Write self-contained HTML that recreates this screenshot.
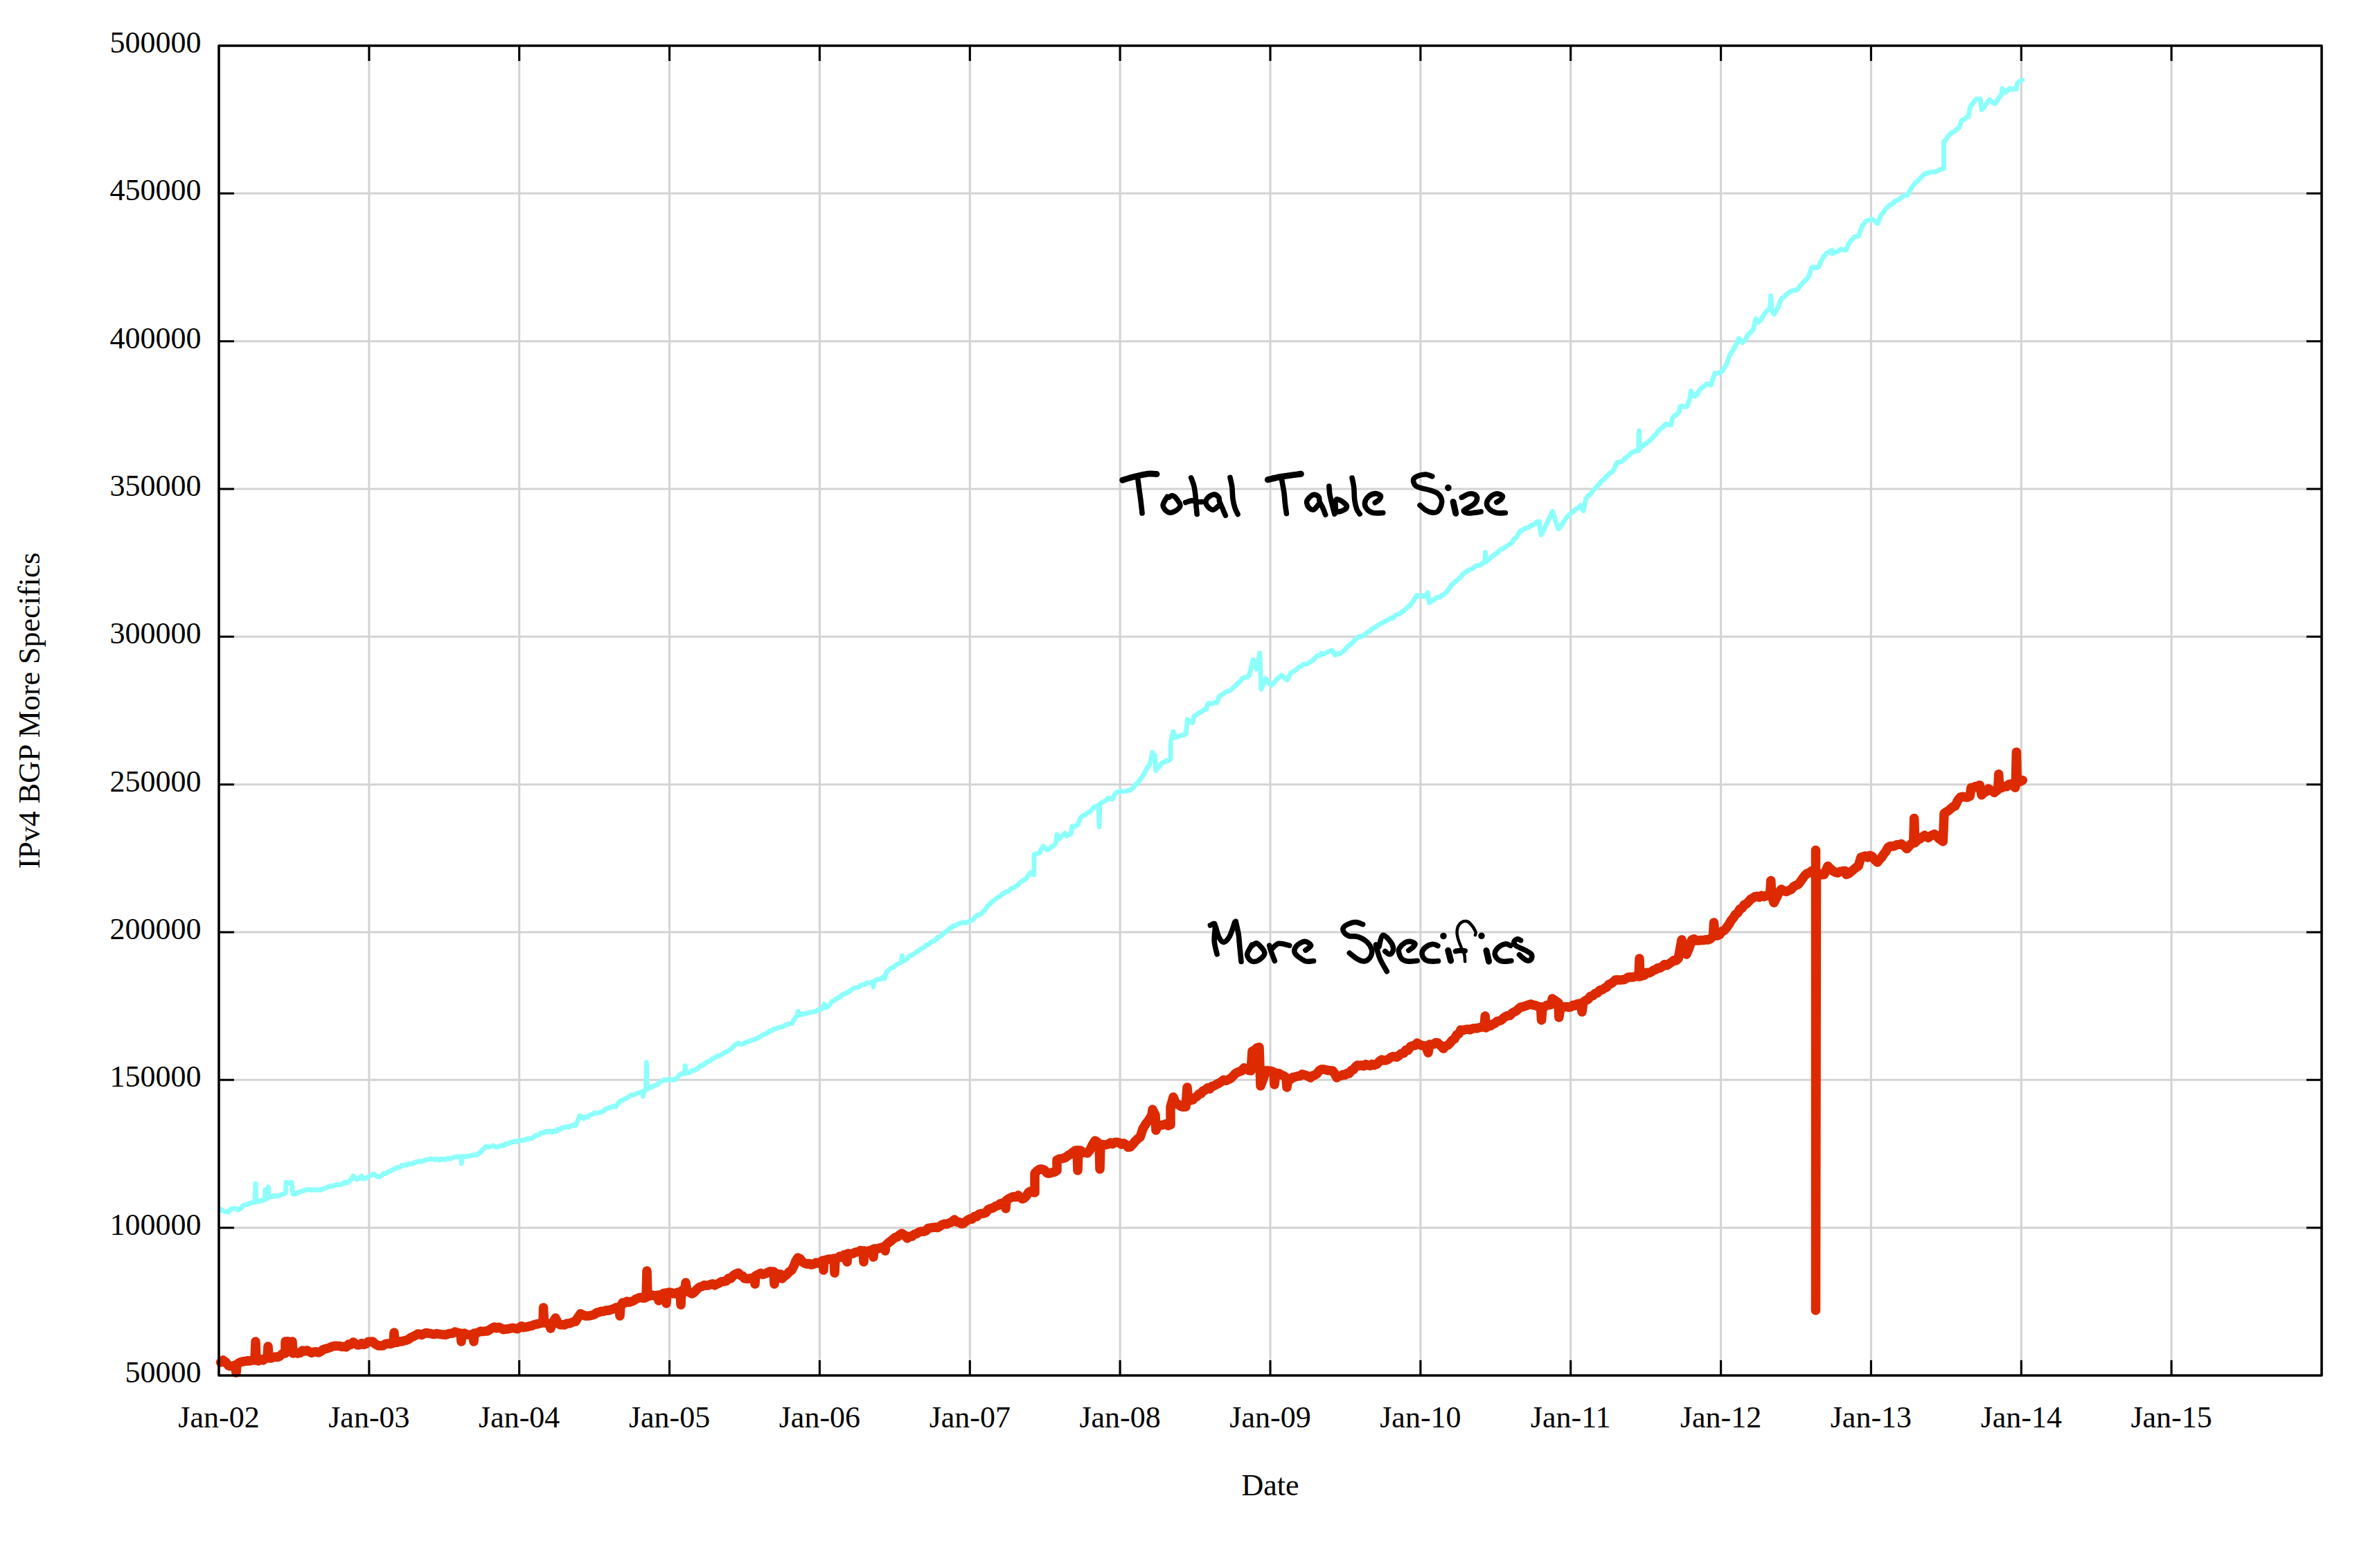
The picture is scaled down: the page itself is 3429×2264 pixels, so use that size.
<!DOCTYPE html>
<html><head><meta charset="utf-8"><style>
html,body{margin:0;padding:0;background:#fff;width:3429px;height:2264px;overflow:hidden}
svg{display:block}
text{font-family:"Liberation Serif",serif;font-size:44px;fill:#000;font-variant-ligatures:none}
</style></head><body>
<svg width="3429" height="2264" viewBox="0 0 3429 2264">
<rect width="3429" height="2264" fill="#fff"/>

<path d="M532.9,66.0V1986.0M749.7,66.0V1986.0M966.6,66.0V1986.0M1183.4,66.0V1986.0M1400.3,66.0V1986.0M1617.1,66.0V1986.0M1834.0,66.0V1986.0M2050.9,66.0V1986.0M2267.7,66.0V1986.0M2484.6,66.0V1986.0M2701.4,66.0V1986.0M2918.3,66.0V1986.0M3135.1,66.0V1986.0M316.0,279.3H3352.0M316.0,492.7H3352.0M316.0,706.0H3352.0M316.0,919.3H3352.0M316.0,1132.7H3352.0M316.0,1346.0H3352.0M316.0,1559.3H3352.0M316.0,1772.7H3352.0" stroke="#d3d3d3" stroke-width="3" fill="none"/>
<path d="M532.9,1986.0v-22M532.9,66.0v22M749.7,1986.0v-22M749.7,66.0v22M966.6,1986.0v-22M966.6,66.0v22M1183.4,1986.0v-22M1183.4,66.0v22M1400.3,1986.0v-22M1400.3,66.0v22M1617.1,1986.0v-22M1617.1,66.0v22M1834.0,1986.0v-22M1834.0,66.0v22M2050.9,1986.0v-22M2050.9,66.0v22M2267.7,1986.0v-22M2267.7,66.0v22M2484.6,1986.0v-22M2484.6,66.0v22M2701.4,1986.0v-22M2701.4,66.0v22M2918.3,1986.0v-22M2918.3,66.0v22M3135.1,1986.0v-22M3135.1,66.0v22M316.0,279.3h22M3352.0,279.3h-22M316.0,492.7h22M3352.0,492.7h-22M316.0,706.0h22M3352.0,706.0h-22M316.0,919.3h22M3352.0,919.3h-22M316.0,1132.7h22M3352.0,1132.7h-22M316.0,1346.0h22M3352.0,1346.0h-22M316.0,1559.3h22M3352.0,1559.3h-22M316.0,1772.7h22M3352.0,1772.7h-22" stroke="#000" stroke-width="3.1" fill="none"/>
<polyline points="318.5,1746.0 322.3,1748.5 326.2,1749.8 330.0,1750.0 333.0,1746.3 336.0,1745.0 340.0,1744.9 344.0,1747.0 348.0,1744.4 352.0,1740.0 355.5,1739.6 359.0,1738.4 362.5,1736.5 366.0,1736.0 368.2,1736.0 369.0,1709.0 369.8,1735.0 372.9,1734.8 376.0,1734.0 379.0,1733.3 382.0,1732.0 382.5,1731.0 383.0,1718.0 384.0,1731.0 386.6,1730.0 387.4,1714.0 388.2,1729.0 390.0,1728.0 393.0,1728.0 396.0,1726.6 399.0,1727.1 402.0,1727.0 405.5,1725.1 409.0,1724.2 412.5,1722.0 413.0,1707.0 417.0,1708.3 421.0,1707.0 423.0,1724.0 426.4,1724.2 429.8,1722.1 433.2,1720.9 436.6,1719.4 440.0,1719.0 443.3,1717.6 446.7,1717.4 450.0,1718.4 453.3,1717.9 456.7,1717.9 460.0,1718.0 463.3,1718.2 466.7,1716.4 470.0,1715.7 473.3,1714.0 476.7,1712.6 480.0,1713.0 483.0,1711.7 486.0,1710.3 489.0,1710.4 492.0,1710.8 495.0,1709.1 498.0,1706.9 501.0,1707.9 504.0,1706.0 507.0,1702.8 510.0,1698.0 515.0,1703.0 518.5,1701.1 522.0,1698.0 524.0,1702.0 527.2,1701.7 530.4,1699.9 533.6,1698.6 536.8,1696.0 540.0,1695.0 543.5,1698.3 547.0,1699.0 550.2,1698.5 553.5,1694.6 556.8,1694.4 560.0,1692.0 563.3,1691.1 566.7,1688.9 570.0,1687.6 573.3,1686.0 576.7,1685.6 580.0,1683.0 583.3,1682.2 586.7,1682.2 590.0,1680.1 593.3,1680.7 596.7,1679.9 600.0,1678.0 603.0,1677.2 606.0,1676.8 609.0,1677.1 612.0,1675.9 615.0,1674.6 618.0,1674.0 621.1,1673.3 624.3,1673.5 627.4,1674.5 630.6,1673.1 633.7,1675.1 636.9,1673.4 640.0,1674.0 643.3,1674.4 646.7,1672.2 650.0,1673.2 653.3,1671.9 656.7,1670.7 660.0,1670.0 665.6,1670.0 666.4,1680.0 667.2,1670.0 670.7,1669.7 674.1,1669.7 677.6,1669.2 681.1,1668.2 684.5,1667.6 688.0,1668.0 691.0,1665.3 694.0,1663.6 697.0,1660.1 700.0,1657.0 703.0,1655.1 706.0,1656.3 709.0,1655.3 712.0,1654.0 716.0,1656.1 720.0,1656.0 723.3,1654.0 726.7,1654.3 730.0,1651.4 733.3,1651.7 736.7,1649.6 740.0,1649.0 743.2,1647.7 746.5,1648.7 749.8,1646.1 753.0,1646.6 756.2,1646.8 759.5,1644.6 762.8,1643.9 766.0,1644.0 769.0,1643.3 772.0,1640.5 775.0,1639.0 778.0,1638.6 781.0,1635.8 784.0,1635.6 787.0,1634.1 790.0,1634.4 793.0,1633.0 797.0,1635.0 800.0,1632.7 803.0,1633.8 806.0,1630.3 809.0,1630.9 812.0,1627.9 815.0,1628.0 818.2,1626.8 821.4,1627.6 824.6,1625.3 827.8,1624.8 831.0,1625.0 834.0,1618.5 837.0,1611.0 840.0,1612.7 843.0,1615.0 846.0,1612.3 849.0,1613.3 852.0,1609.6 855.0,1609.0 858.0,1607.0 861.0,1607.1 864.0,1607.0 867.0,1606.0 870.5,1604.9 874.0,1601.5 877.5,1600.3 881.0,1599.0 885.0,1597.3 889.0,1598.0 892.0,1593.9 895.0,1590.0 898.2,1588.9 901.4,1587.0 904.6,1585.6 907.8,1583.5 911.0,1581.0 914.5,1580.9 918.0,1579.5 921.5,1577.9 925.0,1577.0 927.8,1576.0 928.6,1583.0 929.4,1575.0 932.6,1574.0 933.4,1534.0 934.2,1573.0 937.0,1571.0 940.0,1569.0 943.0,1568.9 946.0,1566.8 949.0,1566.0 952.3,1562.6 955.7,1561.2 959.0,1559.0 962.2,1560.0 965.4,1558.0 968.6,1559.2 971.8,1558.7 975.0,1559.0 978.0,1555.5 981.0,1552.0 984.8,1550.1 988.6,1550.0 989.4,1539.0 990.2,1549.0 992.0,1549.0 995.2,1548.9 998.5,1545.9 1001.8,1545.5 1005.0,1544.0 1008.3,1541.8 1011.7,1538.7 1015.0,1538.2 1018.3,1535.1 1021.7,1532.8 1025.0,1532.0 1028.5,1528.8 1032.0,1527.1 1035.5,1524.9 1039.0,1524.0 1042.3,1522.2 1045.7,1519.7 1049.0,1518.8 1052.3,1516.5 1055.7,1514.5 1059.0,1511.0 1062.5,1507.8 1066.0,1506.0 1071.0,1508.0 1074.5,1506.4 1078.0,1504.4 1081.5,1503.7 1085.0,1502.0 1088.3,1501.0 1091.7,1500.1 1095.0,1498.0 1098.3,1496.9 1101.7,1494.0 1105.0,1492.8 1108.3,1491.4 1111.7,1488.4 1115.0,1488.0 1118.0,1485.5 1121.0,1485.3 1124.0,1483.2 1127.0,1483.0 1130.2,1482.6 1133.4,1480.3 1136.6,1479.0 1139.8,1478.2 1143.0,1478.0 1147.0,1471.3 1151.0,1466.0 1152.4,1460.0 1153.5,1466.0 1157.3,1464.3 1161.2,1464.1 1165.0,1463.0 1168.3,1462.2 1171.7,1461.2 1175.0,1461.0 1178.0,1460.1 1181.0,1457.8 1184.0,1458.3 1187.0,1456.0 1190.0,1450.0 1193.0,1455.0 1197.0,1451.7 1201.0,1446.0 1204.2,1444.8 1207.3,1442.2 1210.5,1440.5 1213.7,1438.9 1216.8,1435.7 1220.0,1435.0 1223.2,1433.0 1226.4,1431.5 1229.6,1428.8 1232.8,1426.7 1236.0,1426.0 1239.2,1425.4 1242.4,1422.9 1245.6,1421.8 1248.8,1421.5 1252.0,1419.0 1256.1,1418.8 1260.2,1418.0 1261.0,1425.0 1261.8,1417.0 1264.9,1415.0 1268.0,1414.0 1272.0,1413.3 1276.0,1410.0 1277.0,1413.0 1280.0,1403.0 1283.3,1400.5 1286.7,1397.4 1290.0,1397.0 1293.3,1393.3 1296.7,1391.7 1300.0,1390.0 1301.6,1389.0 1302.4,1380.0 1303.2,1388.0 1306.6,1386.7 1309.9,1384.0 1313.3,1380.1 1316.6,1379.1 1320.0,1377.0 1323.3,1374.6 1326.7,1372.6 1330.0,1369.7 1333.3,1368.6 1336.7,1365.1 1340.0,1364.0 1343.3,1361.1 1346.7,1359.0 1350.0,1358.1 1353.3,1353.6 1356.7,1353.0 1360.0,1350.0 1363.2,1346.6 1366.4,1345.0 1369.6,1341.9 1372.8,1339.5 1376.0,1337.0 1379.0,1336.8 1382.0,1335.0 1385.0,1333.4 1388.0,1332.5 1391.0,1331.5 1394.0,1332.7 1397.0,1331.2 1400.0,1330.0 1403.3,1328.9 1406.7,1325.8 1410.0,1321.8 1413.3,1321.1 1416.7,1319.1 1420.0,1316.0 1423.0,1312.6 1426.0,1308.0 1429.5,1305.0 1433.0,1301.6 1436.5,1298.9 1440.0,1296.0 1443.3,1294.6 1446.7,1291.1 1450.0,1289.6 1453.3,1287.3 1456.7,1286.3 1460.0,1283.0 1463.3,1281.6 1466.7,1279.8 1470.0,1277.4 1473.3,1273.8 1476.7,1271.5 1480.0,1270.0 1484.0,1265.0 1488.0,1260.0 1493.0,1263.0 1493.0,1234.0 1496.5,1232.4 1500.0,1232.0 1503.0,1226.8 1506.0,1222.0 1509.0,1225.0 1512.0,1227.0 1515.0,1225.8 1518.0,1222.7 1521.0,1221.1 1524.0,1218.0 1526.0,1205.0 1530.0,1211.0 1534.0,1205.9 1538.0,1203.0 1540.0,1207.0 1543.0,1205.1 1546.0,1204.0 1548.0,1193.0 1552.0,1193.3 1556.0,1191.0 1560.0,1181.0 1563.5,1177.8 1567.0,1176.3 1570.5,1173.1 1574.0,1172.0 1578.0,1166.9 1582.0,1164.0 1586.2,1163.0 1587.0,1194.0 1587.8,1161.0 1590.0,1159.0 1593.3,1157.7 1596.7,1155.6 1600.0,1152.0 1603.0,1153.4 1606.0,1154.0 1609.0,1148.0 1612.0,1144.0 1615.3,1143.0 1618.7,1142.3 1622.0,1142.9 1625.3,1142.5 1628.7,1141.3 1632.0,1141.0 1635.5,1137.7 1639.1,1133.2 1642.6,1130.8 1646.1,1125.5 1649.6,1121.1 1653.0,1115.2 1656.5,1108.1 1660.0,1103.7 1663.9,1086.3 1667.8,1092.1 1668.8,1112.4 1673.2,1107.1 1677.5,1101.7 1680.7,1100.8 1683.8,1098.2 1686.9,1098.4 1690.1,1095.9 1690.1,1072.7 1693.9,1056.2 1696.8,1064.9 1699.9,1063.6 1703.0,1063.1 1706.1,1061.2 1709.2,1061.5 1712.3,1059.1 1714.3,1038.8 1718.2,1041.9 1722.0,1043.6 1724.0,1034.0 1727.5,1032.3 1731.0,1029.2 1734.4,1028.0 1737.9,1025.0 1741.4,1024.3 1744.3,1015.6 1747.5,1015.6 1750.6,1016.1 1753.8,1014.0 1756.9,1014.6 1760.8,1004.9 1764.0,1003.0 1767.2,1001.0 1770.4,998.9 1773.7,997.7 1776.9,996.4 1780.1,993.3 1783.5,990.4 1786.9,986.4 1790.3,984.3 1793.7,979.7 1796.9,978.0 1800.2,977.8 1803.4,975.9 1809.2,952.6 1814.0,966.2 1818.9,942.9 1820.8,995.2 1824.2,987.9 1827.6,979.7 1831.4,985.2 1835.3,989.4 1839.0,986.7 1842.6,981.4 1846.2,978.8 1849.9,974.9 1854.2,978.0 1858.6,981.7 1863.4,972.0 1867.3,969.5 1871.1,967.4 1875.0,963.3 1878.1,962.3 1881.2,959.3 1884.3,959.1 1887.4,958.4 1890.5,956.5 1894.4,954.3 1898.2,950.4 1902.1,946.8 1905.2,946.5 1908.3,943.2 1911.4,944.5 1914.5,942.8 1917.6,941.0 1923.5,939.1 1927.3,945.8 1930.7,944.4 1934.1,943.5 1937.5,941.8 1940.9,939.1 1944.8,934.2 1948.6,931.3 1951.8,928.9 1955.1,925.5 1958.3,921.6 1961.5,919.5 1964.8,919.6 1968.0,917.7 1971.3,915.6 1974.6,912.3 1977.8,911.6 1981.1,907.6 1984.4,906.6 1987.7,904.0 1991.2,901.9 1994.7,899.5 1998.2,898.4 2001.7,896.2 2005.2,894.4 2008.3,892.1 2011.4,892.5 2014.5,888.6 2017.6,886.9 2020.7,886.6 2024.2,883.5 2027.7,881.3 2031.1,877.7 2034.6,874.9 2038.1,871.1 2042.0,865.3 2045.9,859.5 2049.8,860.6 2053.6,860.3 2057.5,861.4 2061.3,855.6 2063.3,870.1 2066.3,867.8 2069.4,866.8 2072.4,863.9 2075.5,862.4 2078.5,862.5 2081.6,859.3 2084.6,858.5 2088.0,855.1 2091.3,851.0 2094.7,846.0 2098.1,842.1 2101.6,839.5 2105.1,836.6 2108.6,833.7 2112.1,828.8 2115.6,826.6 2118.8,824.0 2121.9,822.9 2125.1,821.4 2128.2,819.3 2131.3,816.8 2134.5,816.5 2137.7,815.9 2140.8,813.0 2143.8,812.0 2144.6,797.5 2145.6,811.1 2148.7,808.2 2151.7,806.0 2154.8,803.0 2157.9,800.6 2160.9,799.1 2164.0,795.6 2167.1,793.2 2170.2,792.1 2173.3,789.7 2176.4,787.9 2179.5,785.9 2182.7,783.7 2186.0,778.3 2189.2,776.2 2195.0,766.5 2198.0,765.8 2201.0,763.0 2204.0,762.4 2207.0,761.3 2210.1,759.4 2213.1,757.2 2216.1,756.9 2219.1,753.4 2222.1,753.0 2225.0,772.3 2228.4,765.9 2231.8,758.8 2235.0,751.7 2238.3,745.3 2241.5,738.4 2245.8,751.9 2250.2,763.6 2253.3,760.0 2256.5,755.2 2259.7,750.1 2262.8,746.2 2266.0,742.8 2269.2,740.6 2272.4,737.3 2275.7,734.6 2278.9,733.6 2282.1,729.7 2286.0,737.5 2289.9,720.0 2293.1,715.4 2296.4,713.7 2299.6,709.0 2302.8,705.4 2306.1,701.8 2309.3,698.7 2312.3,694.6 2315.4,692.5 2318.4,688.7 2321.5,686.4 2324.5,682.9 2327.6,681.5 2330.6,677.4 2334.4,667.7 2340.0,667.0 2343.1,665.4 2346.1,661.5 2349.2,659.3 2352.2,657.4 2355.3,653.6 2358.7,652.2 2362.2,650.6 2365.6,650.7 2366.4,622.0 2367.2,648.0 2370.6,644.6 2373.9,641.8 2377.3,640.4 2380.6,636.9 2384.0,634.5 2387.3,630.3 2390.7,627.6 2394.1,622.3 2397.4,619.1 2401.2,616.6 2405.0,612.4 2408.8,613.2 2412.7,613.4 2414.6,603.8 2417.8,600.4 2421.0,598.3 2424.2,594.3 2426.1,586.6 2429.3,586.2 2432.5,587.6 2435.7,586.6 2439.5,577.0 2441.4,564.6 2447.1,572.3 2450.9,568.1 2454.8,561.7 2458.0,559.2 2461.2,557.1 2464.4,554.1 2470.1,556.0 2475.8,538.8 2479.0,539.3 2482.2,538.2 2485.4,536.9 2489.2,531.8 2493.0,525.4 2496.9,513.9 2502.6,504.4 2506.4,497.7 2510.3,489.0 2516.0,494.8 2519.8,490.2 2523.7,483.3 2527.5,480.2 2531.3,475.7 2535.1,460.4 2539.0,465.1 2542.8,461.1 2546.6,454.6 2549.9,450.3 2553.3,447.0 2555.6,445.0 2556.6,426.9 2558.0,447.0 2561.0,453.7 2564.3,448.7 2567.7,443.1 2571.5,431.7 2574.8,429.5 2578.2,426.1 2581.6,423.5 2584.9,421.1 2588.7,419.3 2592.5,419.2 2595.7,417.2 2598.9,412.5 2602.1,409.7 2605.3,405.8 2608.5,403.1 2611.7,398.2 2615.5,386.7 2618.9,385.4 2622.3,386.8 2625.7,385.1 2629.6,376.5 2633.4,369.8 2637.2,365.7 2641.1,363.7 2644.9,361.2 2645.8,366.0 2648.9,364.0 2652.1,363.7 2655.2,362.0 2658.3,359.3 2661.7,360.9 2665.0,361.2 2669.8,350.7 2673.6,346.2 2677.4,342.1 2683.1,341.1 2688.9,325.8 2694.6,319.1 2698.4,317.8 2702.3,316.2 2706.6,318.9 2710.9,322.9 2715.7,310.5 2718.9,307.5 2722.0,302.5 2725.2,299.0 2728.4,296.2 2731.6,294.9 2734.8,291.4 2738.0,289.6 2741.2,288.9 2744.4,285.6 2747.6,283.3 2750.7,282.1 2753.9,281.8 2757.8,274.3 2761.6,268.4 2764.8,264.6 2768.0,261.8 2771.2,258.8 2775.0,254.4 2778.8,251.2 2782.2,250.1 2785.5,249.1 2788.8,248.3 2792.2,248.3 2795.8,247.4 2799.3,245.5 2802.8,244.4 2806.4,243.5 2806.4,204.3 2809.6,201.6 2812.7,196.5 2815.8,193.3 2819.0,190.9 2822.2,189.6 2825.4,186.3 2828.6,184.2 2832.4,173.7 2835.6,172.8 2838.8,169.5 2842.0,168.9 2844.8,153.6 2849.1,148.4 2853.4,143.1 2859.2,143.1 2861.1,158.4 2864.9,154.5 2868.8,148.4 2872.6,144.0 2876.4,147.6 2880.2,149.8 2883.4,145.6 2886.6,140.6 2889.8,136.4 2890.8,127.7 2895.5,133.5 2901.3,127.7 2904.5,129.3 2907.7,128.1 2910.9,128.7 2912.8,120.1 2916.2,117.6 2919.5,115.3" stroke="#8cfffb" stroke-width="7" fill="none" stroke-linejoin="round" stroke-linecap="round"/>
<polyline points="318.5,1967.0 322.0,1964.0 326.0,1966.8 330.0,1972.0 333.3,1972.8 336.7,1972.2 340.0,1971.0 341.0,1982.0 342.0,1970.0 346.0,1967.2 350.0,1966.0 353.5,1965.5 357.0,1964.8 360.5,1965.0 364.0,1964.0 368.0,1964.0 369.0,1937.0 370.0,1964.0 373.3,1964.9 376.7,1962.7 380.0,1964.0 383.0,1961.0 386.0,1961.0 387.0,1944.0 388.0,1960.0 391.0,1961.1 394.0,1960.0 397.3,1959.1 400.7,1959.5 404.0,1958.0 408.0,1954.4 412.0,1954.0 412.0,1937.0 415.3,1936.8 418.7,1937.7 422.0,1937.0 423.0,1954.0 426.4,1952.5 429.8,1954.2 433.2,1953.5 436.6,1950.1 440.0,1951.0 443.3,1949.8 446.7,1951.8 450.0,1953.4 453.3,1952.0 456.7,1951.8 460.0,1953.0 463.3,1951.3 466.7,1948.5 470.0,1947.6 473.3,1946.8 476.7,1945.5 480.0,1944.0 483.3,1943.3 486.7,1943.5 490.0,1943.6 493.3,1944.5 496.7,1944.2 500.0,1945.0 503.3,1941.1 506.7,1941.4 510.0,1938.0 513.0,1940.2 516.0,1942.0 519.1,1941.7 522.3,1939.6 525.4,1941.4 528.6,1940.3 531.7,1937.2 534.9,1937.2 538.0,1937.0 542.0,1940.7 546.0,1943.0 549.5,1942.9 553.0,1942.9 556.5,1940.5 560.0,1940.0 564.0,1940.6 568.0,1939.0 569.0,1924.0 570.0,1938.0 573.3,1938.2 576.7,1936.7 580.0,1937.0 583.3,1935.8 586.7,1935.2 590.0,1933.6 593.3,1931.0 596.7,1929.8 600.0,1928.0 603.0,1926.0 606.0,1926.2 609.0,1927.5 612.0,1925.7 615.0,1924.5 618.0,1925.0 621.1,1925.4 624.3,1926.2 627.4,1926.4 630.6,1925.7 633.7,1926.2 636.9,1926.7 640.0,1927.0 643.3,1927.4 646.7,1926.1 650.0,1925.2 653.3,1925.0 656.7,1923.0 660.0,1924.0 665.0,1925.0 666.0,1937.0 667.0,1926.0 670.5,1925.0 674.0,1927.0 677.0,1927.3 680.0,1927.9 683.0,1926.0 684.0,1937.0 685.0,1925.0 688.0,1924.7 691.0,1923.5 694.0,1922.1 697.0,1922.6 700.0,1922.0 703.5,1922.0 707.0,1919.9 710.5,1917.6 714.0,1916.0 717.2,1917.8 720.4,1916.3 723.6,1917.8 726.8,1919.8 730.0,1919.0 733.3,1918.9 736.7,1918.2 740.0,1917.3 743.3,1917.8 746.7,1918.8 750.0,1917.0 753.0,1914.8 756.0,1916.7 759.0,1916.2 762.0,1915.7 765.0,1914.6 768.0,1914.2 771.0,1912.7 774.0,1912.0 777.3,1911.5 780.7,1910.4 784.0,1910.0 784.6,1888.0 785.5,1910.0 789.2,1910.1 793.0,1913.0 795.0,1918.0 797.0,1912.0 802.0,1903.0 806.0,1911.0 809.0,1912.9 812.0,1912.6 815.0,1913.0 818.2,1911.0 821.4,1911.0 824.6,1910.0 827.8,1908.5 831.0,1908.0 834.5,1902.0 838.0,1897.0 841.5,1898.6 845.0,1900.0 848.3,1900.1 851.7,1899.7 855.0,1899.0 858.3,1897.7 861.7,1895.2 865.0,1894.6 868.3,1893.3 871.7,1893.4 875.0,1892.0 878.5,1892.2 882.0,1891.0 885.5,1890.0 889.0,1888.0 894.0,1888.0 895.0,1900.0 896.0,1886.0 899.0,1881.0 902.2,1881.4 905.4,1879.0 908.6,1880.3 911.8,1879.2 915.0,1878.0 918.0,1875.7 921.0,1874.5 924.0,1873.4 927.0,1874.0 930.0,1874.3 933.0,1873.0 934.0,1835.0 935.0,1872.0 938.3,1870.9 941.7,1870.1 945.0,1871.0 950.0,1870.0 951.0,1878.0 952.0,1870.0 955.0,1869.4 958.0,1867.5 961.0,1867.0 962.0,1882.0 963.0,1867.0 966.0,1865.9 969.0,1866.4 972.0,1867.8 975.0,1868.0 978.5,1865.9 982.0,1866.0 983.0,1884.0 984.0,1864.0 989.0,1860.0 990.0,1852.0 992.0,1865.0 995.5,1865.8 999.0,1868.0 1002.0,1866.2 1005.0,1862.9 1008.0,1859.9 1011.0,1858.0 1014.0,1857.4 1017.0,1855.5 1020.0,1856.1 1023.0,1855.7 1026.0,1854.5 1029.0,1853.7 1032.0,1855.8 1035.0,1854.0 1038.3,1852.7 1041.7,1850.4 1045.0,1850.3 1048.3,1849.7 1051.7,1845.8 1055.0,1846.0 1058.7,1841.8 1062.3,1839.5 1066.0,1838.0 1069.0,1841.4 1072.0,1842.2 1075.0,1846.0 1078.5,1846.4 1082.0,1846.1 1085.5,1845.4 1089.0,1845.0 1090.0,1854.0 1091.0,1842.0 1095.0,1840.0 1098.3,1838.4 1101.7,1840.2 1105.0,1839.0 1108.3,1837.4 1111.7,1835.8 1115.0,1836.0 1117.0,1836.0 1118.0,1854.0 1119.0,1838.0 1123.0,1839.5 1127.0,1840.0 1129.0,1846.0 1132.5,1842.7 1136.0,1840.2 1139.5,1836.4 1143.0,1834.0 1146.0,1828.4 1149.0,1820.6 1152.0,1816.0 1155.2,1817.6 1158.5,1822.0 1161.8,1824.0 1165.0,1825.0 1168.3,1824.4 1171.7,1826.1 1175.0,1825.0 1178.2,1823.1 1181.5,1823.9 1184.8,1822.0 1188.0,1820.0 1189.0,1834.0 1190.0,1820.0 1193.3,1819.1 1196.7,1817.9 1200.0,1818.0 1204.0,1817.0 1205.0,1838.0 1206.0,1817.0 1209.0,1817.0 1212.2,1814.2 1215.5,1815.7 1218.8,1811.8 1222.0,1812.0 1223.0,1822.0 1224.0,1810.0 1227.7,1810.4 1231.3,1810.1 1235.0,1808.0 1238.7,1807.6 1242.3,1805.6 1246.0,1806.0 1247.0,1822.0 1248.0,1806.0 1251.0,1807.2 1254.0,1806.0 1257.0,1806.5 1260.0,1804.0 1261.0,1815.0 1262.0,1803.0 1266.0,1803.2 1270.0,1802.0 1273.5,1801.0 1277.0,1800.0 1278.0,1806.0 1279.0,1798.0 1282.5,1794.6 1286.0,1792.0 1289.2,1789.3 1292.4,1786.7 1295.6,1786.0 1298.8,1783.0 1302.0,1781.0 1306.0,1783.5 1310.0,1788.0 1313.3,1785.1 1316.7,1785.2 1320.0,1782.3 1323.3,1781.3 1326.7,1779.1 1330.0,1778.0 1333.3,1778.2 1336.7,1777.3 1340.0,1773.5 1343.3,1773.0 1346.7,1772.4 1350.0,1772.0 1353.3,1772.6 1356.7,1770.9 1360.0,1768.5 1363.3,1767.1 1366.7,1767.6 1370.0,1766.0 1374.0,1764.6 1378.0,1761.0 1381.3,1764.4 1384.7,1764.5 1388.0,1767.0 1391.0,1766.5 1394.0,1764.1 1397.0,1761.7 1400.0,1760.0 1403.3,1760.2 1406.7,1756.5 1410.0,1756.7 1413.3,1753.3 1416.7,1752.3 1420.0,1752.0 1423.3,1751.0 1426.7,1746.4 1430.0,1745.0 1433.5,1744.1 1437.0,1741.8 1440.5,1740.8 1444.0,1738.0 1447.5,1737.1 1451.0,1737.0 1452.0,1745.0 1453.0,1733.0 1456.0,1731.0 1459.5,1729.2 1463.0,1727.8 1466.5,1728.4 1470.0,1726.0 1473.0,1728.8 1476.0,1731.0 1479.0,1729.7 1482.0,1726.7 1485.0,1721.6 1488.0,1720.0 1491.0,1721.2 1494.0,1722.0 1494.0,1694.0 1497.3,1690.7 1500.7,1688.5 1504.0,1688.0 1508.0,1689.6 1512.0,1694.0 1515.5,1694.2 1519.0,1692.9 1522.5,1692.1 1526.0,1690.0 1526.0,1675.0 1529.5,1673.2 1533.0,1672.9 1536.5,1672.2 1540.0,1670.0 1543.0,1667.8 1546.0,1666.6 1549.0,1663.7 1552.0,1661.5 1555.0,1661.0 1556.0,1690.0 1557.0,1661.0 1560.2,1661.3 1563.5,1664.3 1566.8,1664.2 1570.0,1665.0 1573.7,1660.4 1577.3,1652.9 1581.0,1647.0 1584.0,1648.8 1587.0,1652.0 1588.0,1688.0 1589.0,1652.0 1592.7,1652.9 1596.3,1653.0 1600.0,1652.0 1603.2,1650.0 1606.4,1651.7 1609.6,1649.5 1612.8,1649.2 1616.0,1650.0 1619.2,1652.4 1622.4,1650.9 1625.6,1652.8 1628.8,1656.4 1632.0,1656.0 1635.5,1652.2 1639.0,1647.8 1642.5,1644.4 1646.0,1642.0 1650.0,1630.0 1654.0,1623.2 1658.0,1618.0 1663.0,1610.0 1664.0,1602.0 1668.0,1610.0 1669.0,1632.0 1672.0,1624.0 1676.0,1624.8 1680.0,1624.0 1683.3,1622.7 1686.7,1625.3 1690.0,1624.0 1690.0,1598.0 1694.0,1584.0 1698.0,1594.0 1701.5,1594.6 1705.0,1597.5 1708.5,1598.3 1712.0,1598.0 1714.0,1570.0 1716.0,1590.0 1719.0,1588.3 1722.0,1588.0 1725.0,1584.9 1728.0,1583.3 1731.0,1579.7 1734.0,1579.2 1737.0,1574.9 1740.0,1574.0 1743.3,1570.8 1746.7,1572.2 1750.0,1568.3 1753.3,1567.6 1756.7,1565.5 1760.0,1564.0 1763.3,1561.7 1766.7,1559.3 1770.0,1560.3 1773.3,1558.8 1776.7,1557.2 1780.0,1554.0 1783.2,1550.4 1786.4,1548.3 1789.6,1547.2 1792.8,1545.9 1796.0,1542.0 1799.3,1543.5 1802.7,1545.3 1806.0,1546.0 1808.0,1518.0 1811.3,1516.5 1814.7,1513.2 1818.0,1512.0 1820.0,1568.0 1824.0,1557.1 1828.0,1546.0 1831.7,1546.1 1835.3,1546.5 1839.0,1548.0 1840.0,1566.0 1842.0,1550.0 1846.0,1549.7 1850.0,1552.0 1853.5,1553.3 1857.0,1556.0 1858.0,1570.0 1860.0,1558.0 1863.3,1558.4 1866.7,1555.5 1870.0,1555.0 1873.3,1553.8 1876.7,1553.6 1880.0,1551.0 1883.0,1551.9 1886.0,1552.9 1889.0,1554.2 1892.0,1556.0 1895.2,1553.0 1898.4,1552.3 1901.6,1550.1 1904.8,1545.8 1908.0,1544.0 1911.2,1543.9 1914.4,1544.9 1917.6,1545.5 1920.8,1545.9 1924.0,1546.0 1927.0,1550.2 1930.0,1556.0 1933.0,1553.5 1936.0,1553.2 1939.0,1551.6 1942.0,1552.2 1945.0,1549.6 1948.0,1550.0 1951.0,1545.6 1954.0,1544.4 1957.0,1540.3 1960.0,1538.0 1963.0,1538.9 1966.0,1538.0 1969.0,1539.2 1972.0,1536.9 1975.0,1538.0 1978.0,1538.9 1981.0,1536.6 1984.0,1538.0 1988.0,1536.4 1992.0,1532.0 1995.1,1530.1 1998.2,1531.1 2001.3,1530.9 2004.4,1529.5 2007.6,1527.0 2010.7,1525.4 2013.8,1525.8 2016.9,1526.2 2020.0,1524.0 2023.2,1521.1 2026.5,1520.8 2029.8,1516.1 2033.0,1516.3 2036.2,1511.3 2039.5,1509.9 2042.8,1509.5 2046.0,1506.0 2049.0,1508.0 2052.0,1509.3 2055.0,1510.1 2058.0,1510.0 2062.0,1520.0 2064.0,1508.0 2067.0,1508.3 2070.0,1507.6 2073.0,1505.5 2076.0,1506.0 2080.0,1509.8 2084.0,1514.0 2087.2,1510.1 2090.4,1509.1 2093.6,1506.1 2096.8,1502.0 2100.0,1500.0 2103.0,1494.3 2106.0,1492.8 2109.0,1487.0 2112.4,1487.7 2115.7,1486.5 2119.1,1486.1 2122.5,1486.8 2125.9,1485.2 2129.2,1484.7 2132.6,1484.7 2136.1,1483.6 2139.5,1482.8 2143.0,1483.0 2144.2,1467.0 2145.5,1484.0 2148.6,1480.9 2151.8,1481.3 2154.9,1479.0 2158.1,1477.9 2161.2,1474.7 2164.4,1474.1 2167.5,1473.0 2170.6,1469.9 2173.7,1467.9 2176.8,1466.4 2179.9,1466.3 2183.0,1463.0 2186.1,1461.1 2189.2,1459.8 2192.3,1456.7 2195.4,1454.1 2198.5,1453.7 2202.4,1452.5 2206.2,1451.1 2210.1,1449.8 2213.7,1451.3 2217.3,1451.7 2220.9,1453.5 2224.5,1454.0 2225.6,1473.0 2227.0,1454.0 2230.2,1453.7 2233.5,1451.2 2236.8,1451.0 2240.0,1450.0 2241.1,1442.0 2245.6,1444.9 2250.0,1448.0 2250.8,1469.0 2253.0,1455.0 2256.0,1453.6 2259.0,1453.7 2262.0,1453.7 2265.0,1454.3 2268.0,1453.8 2271.0,1451.3 2274.0,1452.0 2277.0,1449.6 2280.0,1449.1 2283.0,1450.0 2284.0,1461.0 2286.0,1447.0 2289.4,1444.5 2292.8,1443.1 2296.3,1438.3 2299.7,1437.7 2303.1,1434.3 2306.5,1433.6 2309.8,1429.8 2313.2,1429.1 2316.6,1426.6 2319.7,1425.4 2322.8,1421.5 2325.9,1420.2 2329.0,1418.0 2332.1,1414.9 2335.2,1414.7 2338.4,1415.1 2341.6,1414.7 2344.7,1414.5 2347.8,1412.8 2351.0,1411.0 2354.2,1410.8 2357.3,1411.1 2361.7,1409.6 2366.0,1410.0 2367.0,1384.0 2368.0,1410.0 2371.2,1408.8 2374.4,1407.9 2377.6,1404.2 2380.8,1404.8 2383.9,1403.5 2387.1,1400.9 2390.3,1400.0 2393.5,1397.4 2396.7,1397.8 2399.9,1395.6 2403.2,1392.5 2406.5,1393.8 2409.8,1391.6 2413.2,1389.4 2416.5,1386.6 2419.8,1387.0 2423.1,1384.0 2428.0,1357.0 2434.8,1378.0 2438.7,1369.0 2442.5,1357.0 2445.8,1355.8 2449.2,1357.9 2452.5,1358.1 2455.8,1357.5 2459.1,1357.6 2462.5,1356.8 2465.8,1357.0 2469.7,1355.4 2473.5,1351.0 2474.5,1332.0 2476.0,1351.0 2479.3,1351.0 2482.7,1349.6 2486.1,1344.8 2489.5,1343.3 2492.9,1339.4 2496.1,1334.7 2499.3,1329.3 2502.6,1325.3 2505.8,1320.1 2509.0,1318.1 2512.2,1312.3 2515.2,1311.3 2518.3,1306.1 2521.3,1305.2 2524.4,1302.1 2527.4,1298.6 2530.5,1296.7 2533.5,1294.9 2536.9,1294.0 2540.2,1295.5 2543.6,1293.1 2547.0,1294.6 2551.2,1292.8 2555.5,1293.0 2556.8,1271.6 2558.0,1293.0 2561.2,1303.4 2564.7,1296.7 2568.3,1288.9 2571.8,1284.0 2575.4,1286.2 2578.9,1287.5 2582.4,1285.7 2586.0,1284.3 2589.5,1280.2 2593.1,1278.3 2596.6,1276.9 2601.0,1270.8 2605.4,1264.5 2608.9,1261.4 2612.5,1260.0 2616.0,1257.4 2621.5,1255.0 2621.5,1227.4 2621.5,1892.0 2622.5,1262.0 2626.2,1261.4 2630.0,1263.1 2633.7,1262.7 2639.0,1250.4 2642.5,1254.3 2646.1,1257.3 2649.6,1259.2 2653.2,1260.3 2656.7,1258.4 2660.2,1257.8 2663.8,1257.4 2665.6,1262.7 2669.1,1261.4 2672.6,1258.6 2676.2,1255.5 2679.7,1252.5 2683.2,1250.4 2686.8,1238.0 2690.0,1236.9 2693.2,1236.0 2696.3,1237.9 2699.5,1235.3 2702.7,1236.2 2706.6,1241.4 2710.6,1245.1 2713.6,1241.0 2716.6,1238.1 2719.7,1233.2 2722.7,1229.6 2725.7,1223.8 2728.9,1221.8 2732.2,1222.0 2735.4,1221.4 2738.6,1219.7 2741.9,1219.4 2745.1,1218.5 2749.1,1221.6 2753.1,1225.6 2756.2,1222.1 2759.3,1218.5 2762.7,1217.0 2763.7,1181.4 2764.7,1217.0 2768.2,1212.7 2771.7,1211.4 2775.2,1208.7 2778.7,1206.2 2784.0,1209.7 2788.4,1206.4 2792.9,1204.4 2796.0,1206.7 2799.1,1210.6 2802.2,1212.9 2805.3,1215.0 2807.0,1174.3 2810.2,1172.2 2813.4,1170.5 2816.5,1167.5 2819.7,1164.9 2822.9,1163.7 2826.4,1155.9 2830.0,1151.3 2833.5,1150.2 2837.1,1150.8 2840.6,1151.2 2844.1,1149.6 2845.9,1137.2 2849.0,1137.4 2852.1,1135.5 2855.2,1136.1 2858.3,1133.7 2861.0,1147.8 2864.2,1144.7 2867.5,1143.0 2870.7,1139.0 2875.1,1141.4 2879.5,1144.3 2884.7,1140.0 2885.7,1117.7 2886.7,1138.0 2890.2,1137.5 2893.7,1135.4 2897.2,1135.8 2900.8,1132.4 2904.3,1131.9 2909.6,1137.2 2910.3,1130.0 2911.3,1085.9 2912.3,1128.0 2916.6,1128.4 2920.2,1126.6" stroke="#dd2a00" stroke-width="13.5" fill="none" stroke-linejoin="round" stroke-linecap="round"/>
<rect x="316.0" y="66.0" width="3036.0" height="1920.0" stroke="#000" stroke-width="3.6" fill="none" stroke-linejoin="round"/>
<text x="290.5" y="76.0" text-anchor="end">500000</text>
<text x="290.5" y="289.3" text-anchor="end">450000</text>
<text x="290.5" y="502.7" text-anchor="end">400000</text>
<text x="290.5" y="716.0" text-anchor="end">350000</text>
<text x="290.5" y="929.3" text-anchor="end">300000</text>
<text x="290.5" y="1142.7" text-anchor="end">250000</text>
<text x="290.5" y="1356.0" text-anchor="end">200000</text>
<text x="290.5" y="1569.3" text-anchor="end">150000</text>
<text x="290.5" y="1782.7" text-anchor="end">100000</text>
<text x="290.5" y="1996.0" text-anchor="end">50000</text>
<text x="316.0" y="2061" text-anchor="middle">Jan-02</text>
<text x="532.9" y="2061" text-anchor="middle">Jan-03</text>
<text x="749.7" y="2061" text-anchor="middle">Jan-04</text>
<text x="966.6" y="2061" text-anchor="middle">Jan-05</text>
<text x="1183.4" y="2061" text-anchor="middle">Jan-06</text>
<text x="1400.3" y="2061" text-anchor="middle">Jan-07</text>
<text x="1617.1" y="2061" text-anchor="middle">Jan-08</text>
<text x="1834.0" y="2061" text-anchor="middle">Jan-09</text>
<text x="2050.9" y="2061" text-anchor="middle">Jan-10</text>
<text x="2267.7" y="2061" text-anchor="middle">Jan-11</text>
<text x="2484.6" y="2061" text-anchor="middle">Jan-12</text>
<text x="2701.4" y="2061" text-anchor="middle">Jan-13</text>
<text x="2918.3" y="2061" text-anchor="middle">Jan-14</text>
<text x="3135.1" y="2061" text-anchor="middle">Jan-15</text>
<text x="1834" y="2159" text-anchor="middle">Date</text>
<text transform="translate(57,1026) rotate(-90)" x="0" y="0" text-anchor="middle">IPv4 BGP More Specifics</text>
<path d="M1642.7,690.8 C1643.0,693.3 1644.0,700.8 1644.7,706.1 C1645.4,711.4 1646.3,717.0 1647.0,722.8 C1647.7,728.6 1648.7,738.0 1649.0,741.0M1685.3,717.1 C1684.3,719.2 1678.9,726.2 1679.1,730.0 C1679.3,733.8 1683.8,738.2 1686.7,739.6 C1689.6,741.0 1693.4,739.7 1696.3,738.1 C1699.2,736.5 1703.7,733.1 1704.0,730.0 C1704.3,726.9 1700.1,721.9 1698.2,719.5 C1696.3,717.1 1694.2,715.9 1692.5,715.6 C1690.8,715.4 1688.5,717.6 1687.7,718.0M1719.7,689.8 C1720.4,691.7 1722.7,697.1 1723.8,701.4 C1724.8,705.7 1725.5,711.1 1726.0,715.7 C1726.5,720.3 1726.5,724.6 1726.9,729.1 C1727.3,733.6 1728.0,740.3 1728.2,742.5M1711.7,725.5 C1713.2,725.1 1717.6,723.0 1720.6,722.9 C1723.6,722.8 1727.1,724.3 1729.6,724.6 C1732.1,724.9 1734.4,724.6 1735.4,724.6M1759.9,730.0 C1758.4,731.0 1754.0,736.4 1751.0,736.2 C1748.0,736.1 1743.4,731.8 1742.0,729.1 C1740.6,726.4 1740.8,722.7 1742.5,720.2 C1744.2,717.7 1749.1,714.3 1751.9,713.9 C1754.7,713.5 1758.0,716.1 1759.5,717.9 C1761.0,719.7 1759.9,722.0 1760.8,724.6 C1761.7,727.2 1763.4,730.3 1764.8,733.6 C1766.2,736.9 1768.5,742.5 1769.3,744.3M1776.0,689.4 C1776.5,691.5 1778.0,697.2 1778.7,702.3 C1779.4,707.4 1779.3,715.0 1780.0,720.2 C1780.7,725.4 1781.9,729.9 1783.1,733.6 C1784.3,737.3 1786.4,741.0 1787.1,742.5M1850.6,692.7 C1851.2,695.9 1853.2,706.2 1854.0,712.1 C1854.8,718.0 1854.9,723.1 1855.5,728.0 C1856.1,732.9 1857.1,739.3 1857.4,741.6M1903.7,728.4 C1902.5,729.6 1899.2,735.1 1896.8,735.8 C1894.4,736.5 1891.2,734.6 1889.5,732.6 C1887.8,730.6 1886.2,726.5 1886.8,723.7 C1887.4,720.9 1891.3,717.4 1893.2,715.8 C1895.1,714.2 1896.6,713.9 1898.4,714.2 C1900.2,714.6 1903.1,716.1 1904.2,717.9 C1905.3,719.6 1904.4,722.2 1905.3,724.7 C1906.2,727.2 1908.1,729.5 1909.5,732.6 C1910.9,735.7 1913.0,741.4 1913.7,743.2M1918.9,702.1 C1919.1,704.1 1919.2,709.6 1920.0,714.2 C1920.8,718.9 1922.6,725.4 1923.7,730.0 C1924.8,734.6 1926.3,740.1 1926.8,742.1M1928.4,737.9 C1928.6,735.1 1927.2,722.9 1929.5,721.1 C1931.8,719.4 1939.7,725.3 1942.1,727.4 C1944.5,729.5 1944.8,731.9 1943.7,733.7 C1942.6,735.5 1937.8,737.5 1935.3,738.4 C1932.8,739.3 1930.0,738.8 1928.9,738.9M1952.1,690.0 C1952.5,692.3 1954.1,698.4 1954.7,703.7 C1955.3,709.1 1955.1,716.8 1955.8,722.1 C1956.5,727.4 1957.7,732.0 1958.9,735.3 C1960.1,738.6 1962.5,741.0 1963.2,742.1M1985.3,725.8 C1986.3,725.0 1990.3,722.8 1991.6,721.1 C1992.9,719.4 1994.2,717.2 1993.2,715.8 C1992.2,714.4 1988.2,712.4 1985.3,712.6 C1982.4,712.8 1978.3,714.5 1975.8,716.8 C1973.3,719.1 1970.8,723.2 1970.5,726.3 C1970.2,729.4 1971.7,732.9 1973.7,735.3 C1975.7,737.7 1978.8,739.6 1982.6,740.5 C1986.4,741.4 1994.4,740.5 1996.8,740.5M2067.8,687.9 C2066.3,687.4 2061.8,685.2 2058.7,685.0 C2055.6,684.8 2052.0,685.5 2049.1,686.5 C2046.2,687.5 2042.8,689.1 2041.5,690.8 C2040.2,692.5 2040.5,694.7 2041.0,696.5 C2041.5,698.3 2042.7,700.4 2044.4,701.8 C2046.2,703.2 2048.3,703.8 2051.5,704.7 C2054.7,705.7 2059.5,706.2 2063.5,707.5 C2067.5,708.8 2072.6,710.1 2075.5,712.3 C2078.4,714.5 2080.3,717.5 2081.2,720.5 C2082.1,723.5 2081.6,727.0 2080.7,730.0 C2079.8,733.0 2077.6,736.9 2075.5,738.6 C2073.4,740.3 2071.1,740.4 2068.3,740.1 C2065.5,739.8 2061.7,738.5 2058.7,736.7 C2055.7,734.9 2051.5,730.7 2050.1,729.5M2110.3,718.2 C2112.1,717.4 2117.7,713.8 2120.8,713.1 C2124.0,712.4 2127.2,712.8 2129.2,714.0 C2131.2,715.2 2132.9,717.8 2132.6,720.3 C2132.2,722.8 2130.3,726.0 2127.1,728.7 C2123.9,731.4 2115.0,734.7 2113.6,736.7 C2112.2,738.7 2116.1,740.3 2118.7,740.9 C2121.3,741.5 2126.0,740.5 2129.2,740.1 C2132.4,739.8 2136.6,739.0 2138.1,738.8M2160.8,725.3 C2161.9,724.6 2165.7,722.6 2167.1,721.1 C2168.5,719.6 2170.1,717.5 2169.2,716.1 C2168.3,714.7 2164.4,712.6 2161.6,712.7 C2158.8,712.8 2154.9,714.6 2152.4,716.9 C2149.9,719.2 2146.8,723.5 2146.5,726.6 C2146.2,729.7 2148.3,733.1 2150.7,735.4 C2153.1,737.7 2157.0,739.6 2160.8,740.5 C2164.6,741.4 2171.3,740.5 2173.4,740.5M1747.4,1336.1 C1748.5,1335.9 1753.2,1331.5 1754.2,1335.2 C1755.2,1338.9 1752.7,1351.3 1753.2,1358.4 C1753.7,1365.5 1756.4,1374.6 1757.1,1377.8M1755.2,1338.1 C1756.0,1340.7 1758.1,1349.9 1760.0,1353.6 C1761.9,1357.3 1764.2,1360.7 1766.8,1360.4 C1769.4,1360.1 1772.8,1356.4 1775.5,1351.6 C1778.2,1346.8 1781.6,1334.7 1782.8,1331.3M1784.2,1330.3 C1784.8,1333.4 1787.1,1342.4 1788.1,1348.7 C1789.1,1355.0 1789.3,1361.5 1790.0,1368.1 C1790.7,1374.7 1791.7,1385.0 1792.0,1388.4M1807.5,1364.2 C1806.4,1366.5 1800.9,1373.9 1800.7,1377.8 C1800.5,1381.7 1803.8,1386.0 1806.5,1387.5 C1809.2,1389.0 1814.0,1388.4 1817.2,1386.5 C1820.4,1384.6 1826.2,1379.9 1825.9,1375.9 C1825.6,1371.9 1818.1,1364.1 1815.2,1362.3 C1812.3,1360.5 1809.5,1364.7 1808.4,1365.2M1832.7,1365.2 C1833.2,1367.0 1834.7,1372.3 1836.0,1376.0 C1837.3,1379.7 1839.7,1385.6 1840.4,1387.5M1836.5,1370.0 C1838.1,1368.7 1842.0,1363.1 1846.2,1362.3 C1850.4,1361.5 1859.1,1364.7 1861.7,1365.2M1885.0,1372.0 C1886.3,1370.9 1892.9,1367.3 1892.7,1365.2 C1892.5,1363.1 1887.4,1359.4 1884.0,1359.4 C1880.6,1359.4 1874.8,1362.5 1872.4,1365.2 C1870.0,1368.0 1867.6,1372.2 1869.5,1375.9 C1871.4,1379.6 1879.5,1385.6 1884.0,1387.5 C1888.5,1389.4 1894.5,1387.5 1896.6,1387.5M1967.7,1334.7 C1966.1,1334.2 1961.3,1331.8 1958.0,1331.6 C1954.7,1331.4 1950.9,1332.4 1947.8,1333.7 C1944.7,1335.0 1940.8,1337.2 1939.6,1339.3 C1938.4,1341.4 1939.2,1344.4 1940.6,1346.4 C1942.0,1348.4 1944.5,1350.5 1947.8,1351.5 C1951.1,1352.5 1956.2,1351.2 1960.5,1352.6 C1964.8,1354.0 1970.0,1356.7 1973.3,1359.7 C1976.6,1362.8 1979.5,1367.3 1980.4,1370.9 C1981.3,1374.5 1980.5,1378.3 1978.9,1381.1 C1977.3,1383.9 1973.8,1387.1 1970.7,1387.8 C1967.6,1388.5 1964.2,1387.2 1960.5,1385.2 C1956.8,1383.2 1950.3,1377.5 1948.3,1376.0M1991.0,1367.0 C1991.9,1364.2 1993.6,1352.0 1996.2,1350.5 C1998.8,1349.0 2003.9,1355.2 2006.4,1358.2 C2009.0,1361.2 2011.0,1365.4 2011.5,1368.4 C2012.0,1371.4 2010.6,1374.5 2009.5,1376.0 C2008.4,1377.5 2006.5,1378.0 2004.9,1377.6 C2003.3,1377.2 2000.7,1374.2 1999.8,1373.5M1986.5,1363.8 C1987.4,1367.1 1989.5,1377.2 1992.1,1383.7 C1994.7,1390.2 2000.6,1399.4 2002.3,1402.6M2033.9,1372.3 C2035.0,1371.4 2039.1,1368.7 2040.6,1367.1 C2042.1,1365.5 2043.7,1364.1 2043.0,1362.8 C2042.3,1361.5 2038.8,1359.7 2036.3,1359.4 C2033.8,1359.2 2030.8,1359.7 2028.2,1361.3 C2025.6,1362.9 2021.9,1366.7 2020.5,1369.0 C2019.1,1371.3 2019.0,1372.6 2019.6,1375.2 C2020.2,1377.8 2021.9,1382.7 2024.3,1384.8 C2026.7,1386.9 2030.2,1387.7 2033.9,1388.1 C2037.6,1388.5 2044.2,1387.3 2046.3,1387.2M2076.0,1365.6 C2074.7,1365.2 2071.3,1362.9 2068.3,1363.3 C2065.3,1363.7 2060.4,1365.8 2057.8,1368.0 C2055.2,1370.2 2053.0,1373.8 2053.0,1376.7 C2053.0,1379.7 2055.4,1383.8 2057.8,1385.7 C2060.2,1387.6 2064.3,1387.8 2067.4,1388.1 C2070.5,1388.4 2075.0,1387.7 2076.5,1387.6M2101.6,1373.5 C2102.7,1373.3 2105.7,1372.6 2108.0,1372.5 C2110.3,1372.4 2114.0,1372.9 2115.2,1373.0M2180.9,1365.4 C2179.6,1365.0 2176.2,1362.5 2173.3,1362.9 C2170.4,1363.3 2165.7,1365.7 2163.2,1368.0 C2160.7,1370.3 2158.2,1374.1 2158.2,1377.0 C2158.2,1379.9 2161.1,1383.7 2163.2,1385.6 C2165.3,1387.5 2167.7,1387.9 2170.8,1388.2 C2173.9,1388.5 2180.1,1387.4 2181.9,1387.2M2195.6,1357.8 C2194.8,1357.5 2192.6,1355.5 2191.0,1355.8 C2189.4,1356.1 2186.4,1357.8 2186.0,1359.4 C2185.6,1361.0 2186.0,1363.4 2188.5,1365.4 C2191.0,1367.4 2197.3,1369.4 2201.1,1371.5 C2204.9,1373.6 2209.7,1375.8 2211.2,1378.1 C2212.7,1380.4 2211.5,1384.2 2210.2,1385.6 C2208.9,1387.0 2206.4,1387.8 2203.6,1386.6 C2200.8,1385.4 2195.2,1379.9 2193.5,1378.6" stroke="#000" stroke-width="7.6" fill="none" stroke-linecap="round" stroke-linejoin="round"/>
<path d="M2090.8,1372.3 L2094.6,1387.2M1620.7,693.2 C1623.7,692.3 1632.7,689.5 1638.9,688.0 C1645.1,686.5 1652.8,684.7 1658.0,684.1 C1663.2,683.5 1668.0,684.5 1670.0,684.6M2098.1,724.5 L2101.8,741.3M1830.4,692.7 C1833.5,692.0 1841.0,689.9 1849.0,688.5 C1857.0,687.1 1873.5,685.0 1878.4,684.3M2146.0,1372.5 L2149.6,1388.2" stroke="#000" stroke-width="9" fill="none" stroke-linecap="round" stroke-linejoin="round"/>
<path d="M2129.9,1350.3 C2130.0,1349.5 2131.6,1348.0 2130.4,1345.2 C2129.2,1342.4 2125.3,1336.1 2122.8,1333.6 C2120.3,1331.1 2117.9,1329.8 2115.2,1330.1 C2112.5,1330.3 2108.5,1332.6 2106.6,1335.1 C2104.7,1337.6 2103.8,1341.8 2103.6,1345.2 C2103.3,1348.6 2104.1,1351.5 2105.1,1355.3 C2106.1,1359.1 2108.2,1364.2 2109.7,1368.0 C2111.2,1371.8 2113.3,1374.7 2114.2,1378.1 C2115.1,1381.5 2115.0,1386.5 2115.2,1388.2" stroke="#000" stroke-width="4.5" fill="none" stroke-linecap="round" stroke-linejoin="round"/>
<circle cx="2090.9" cy="704.3" r="4.8" fill="#000"/>
<circle cx="2084" cy="1351.5" r="4.8" fill="#000"/>
<circle cx="2139" cy="1351.3" r="4.8" fill="#000"/>
</svg></body></html>
